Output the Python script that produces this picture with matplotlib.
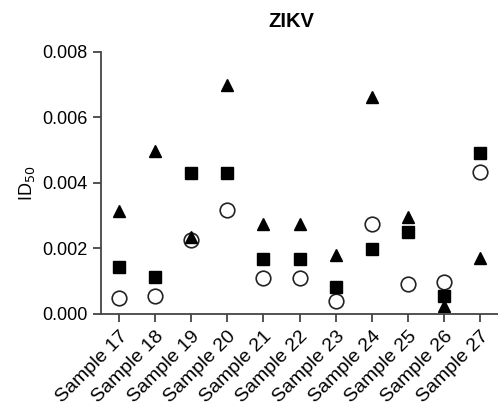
import matplotlib.pyplot as plt

plt.rcParams["font.family"] = ["Liberation Sans", "DejaVu Sans"]

samples = ["Sample 17", "Sample 18", "Sample 19", "Sample 20", "Sample 21",
           "Sample 22", "Sample 23", "Sample 24", "Sample 25", "Sample 26",
           "Sample 27"]
triangles = [0.00313, 0.00499, 0.00234, 0.00700, 0.00274, 0.00274,
             0.00180, 0.00663, 0.00295, 0.00024, 0.00170]
squares = [0.00143, 0.00113, 0.00429, 0.00429, 0.00167, 0.00167,
           0.00082, 0.00198, 0.00250, 0.00055, 0.00490]
circles = [0.00049, 0.00055, 0.00225, 0.00316, 0.00110, 0.00110,
           0.00040, 0.00274, 0.00091, 0.00097, 0.00432]

fig = plt.figure(figsize=(4.98, 4.12), dpi=100)
ax = fig.add_axes([0.203, 0.238, 0.797, 0.636])

x = list(range(len(samples)))
ax.plot(x, circles, linestyle="none", marker="o", markersize=10.5,
        markerfacecolor="none", markeredgecolor="#222222", markeredgewidth=1.2)
ax.plot(x, triangles, linestyle="none", marker="^", markersize=8.5,
        color="black")
ax.plot(x, squares, linestyle="none", marker="s", markersize=8,
        color="black")

ax.set_xlim(-0.5, len(samples) - 0.5)
ax.set_ylim(0, 0.008)
ax.set_yticks([0, 0.002, 0.004, 0.006, 0.008])
ax.set_yticklabels(["0.000", "0.002", "0.004", "0.006", "0.008"])
ax.set_xticks(x)
ax.set_xticklabels(samples, rotation=45, ha="right", rotation_mode="anchor")

for side in ["top", "right"]:
    ax.spines[side].set_visible(False)
for side in ["left", "bottom"]:
    ax.spines[side].set_color("#444444")
    ax.spines[side].set_linewidth(1.3)

ax.tick_params(axis="both", colors="#444444", labelcolor="black",
               width=1.3, length=6, labelsize=13)
ax.tick_params(axis="x", pad=4, labelsize=14)

ax.set_ylabel("ID$_{50}$", fontsize=13, labelpad=4)
ax.set_title("ZIKV", fontsize=14.5, fontweight="bold", pad=18, x=0.478)

fig.savefig("out.png", dpi=100)
